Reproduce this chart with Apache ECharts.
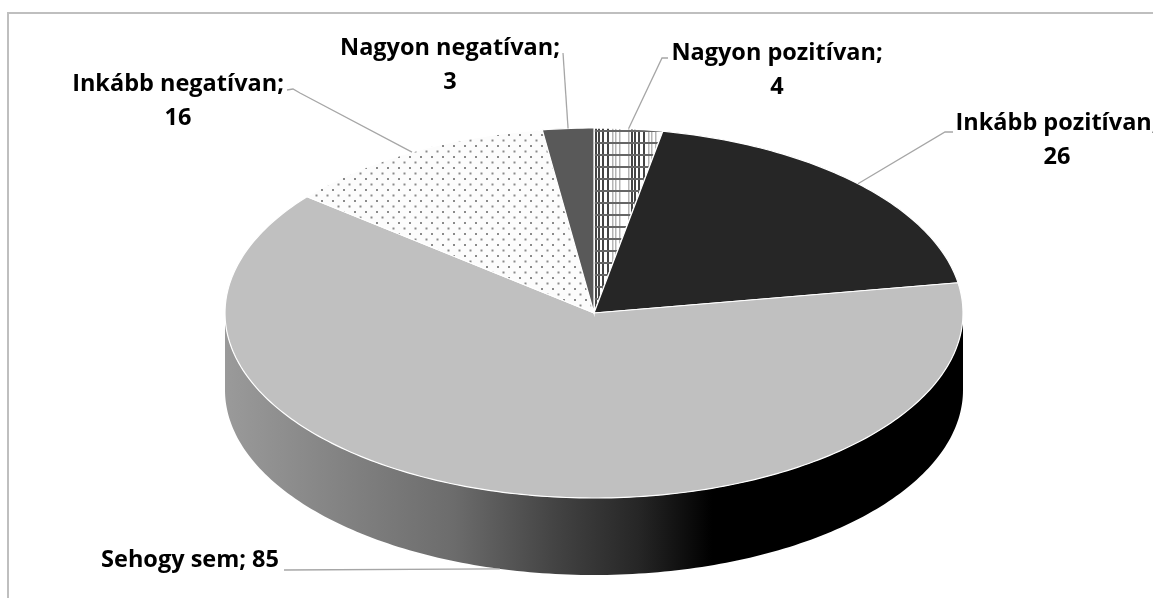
<!DOCTYPE html>
<html>
<head>
<meta charset="utf-8">
<style>html,body{margin:0;padding:0;background:#fff;overflow:hidden}#c{width:1153px;height:598px}</style>
<script src="https://cdn.jsdelivr.net/npm/echarts@6/dist/echarts.min.js"></script>
</head>
<body>
<div id="c"></div>
<script>
const categories = ['Nagyon pozitívan', 'Inkább pozitívan', 'Sehogy sem', 'Inkább negatívan', 'Nagyon negatívan'];
const values = [4, 26, 85, 16, 3];

// Layout of the tilted pie (like a pie's center / radius options)
const CX = 594, CY = 313, RX = 369, RY = 185, DEPTH = 77;
const LABEL_FONT = '"Open Sans"';
const FONT_SIZE = 23.5;
// label centre x, first line y, second-line offset; elbow of the leader line
const labelLayout = [
  { x: 777, y: 36, two: true, elbow: [[662, 58], [668, 58]] },
  { x: 1057, y: 106, two: true, elbow: [[945, 132], [953, 132]] },
  { x: 190, y: 543, two: false, elbow: [[284, 570]] },
  { x: 178, y: 67, two: true, elbow: [[300, 93], [293, 89], [287, 90]] },
  { x: 450, y: 31, two: true, elbow: [[563, 53]] }
];

function tile(w, h, draw) {
  const c = document.createElement('canvas');
  c.width = w; c.height = h;
  const g = c.getContext('2d');
  g.fillStyle = '#fff'; g.fillRect(0, 0, w, h);
  draw(g);
  return c;
}
const hatch = tile(36, 12, g => {
  g.fillStyle = '#b5b5b5';
  [0, 3, 7, 16].forEach(x => g.fillRect(x, 0, 1.5, 12));
  g.fillStyle = '#444';
  [19, 22, 26, 31].forEach(x => g.fillRect(x, 0, 2, 12));
  g.fillStyle = '#666';
  g.fillRect(0, 10, 36, 2);
});
const dots = tile(11, 11, g => {
  g.fillStyle = '#fcfcfc'; g.fillRect(0, 0, 11, 11);
  g.fillStyle = '#8a8a8a';
  g.fillRect(2, 2, 2, 2);
  g.fillRect(7.5, 7.5, 2, 2);
});

const fills = [
  { image: hatch, repeat: 'repeat' },
  '#262626',
  '#c0c0c0',
  { image: dots, repeat: 'repeat' },
  '#595959'
];
const wallFill = {
  type: 'linear', x: 0, y: 0, x2: 1, y2: 0,
  colorStops: [
    { offset: 0, color: '#9a9a9a' },
    { offset: 0.31, color: '#6c6c6c' },
    { offset: 0.445, color: '#444444' },
    { offset: 0.56, color: '#262626' },
    { offset: 0.66, color: '#000000' },
    { offset: 1, color: '#000000' }
  ]
};

const total = values.reduce((a, b) => a + b, 0);
function rim(deg, dy) {
  const t = deg * Math.PI / 180;
  return [CX + RX * Math.sin(t), CY - RY * Math.cos(t) + (dy || 0)];
}
function arc(a0, a1, dy) {
  const pts = [];
  const n = Math.max(2, Math.ceil(Math.abs(a1 - a0)));
  for (let i = 0; i <= n; i++) pts.push(rim(a0 + (a1 - a0) * i / n, dy));
  return pts;
}

function renderItem(params, api) {
  const i = params.dataIndex;
  const v = api.value(0);
  let before = 0;
  for (let k = 0; k < i; k++) before += values[k];
  const a0 = before / total * 360;
  const a1 = (before + v) / total * 360;
  const mid = (a0 + a1) / 2;
  const children = [];

  // side wall: only the front half (90..270 degrees) is visible
  const w0 = Math.max(a0, 90), w1 = Math.min(a1, 270);
  if (w1 > w0) {
    const top = arc(w0, w1, 0);
    const bottom = arc(w1, w0, DEPTH);
    children.push({
      type: 'polygon', shape: { points: top.concat(bottom) },
      style: { fill: wallFill, stroke: null }
    });
  }
  // top face
  children.push({
    type: 'polygon',
    shape: { points: [[CX, CY]].concat(arc(a0, a1, 0)) },
    style: { fill: fills[i], stroke: '#ffffff', lineWidth: 1.2 }
  });
  // leader line
  const lay = labelLayout[i];
  const frontFacing = mid > 90 && mid < 270;
  const anchor = rim(mid, frontFacing ? DEPTH : 0);
  children.push({
    type: 'polyline', z2: 5,
    shape: { points: [anchor].concat(lay.elbow) },
    style: { fill: null, stroke: '#a6a6a6', lineWidth: 1.3 }
  });
  // label
  const name = categories[i];
  const text = lay.two ? name + ';\n' + v : name + '; ' + v;
  children.push({
    type: 'text', z2: 6,
    x: lay.x, y: lay.y,
    style: {
      text: text, fill: '#000000', align: 'center', verticalAlign: 'top',
      font: 'bold ' + FONT_SIZE + 'px ' + LABEL_FONT,
      lineHeight: 34
    }
  });
  return { type: 'group', children: children };
}

const chart = echarts.init(document.getElementById('c'), null, { renderer: 'canvas' });
chart.setOption({
  animation: false,
  backgroundColor: '#ffffff',
  graphic: [
    { type: 'line', silent: true, shape: { x1: 8, y1: 13, x2: 1153, y2: 13 }, style: { stroke: '#bfbfbf', lineWidth: 2 } },
    { type: 'line', silent: true, shape: { x1: 8, y1: 12, x2: 8, y2: 598 }, style: { stroke: '#bfbfbf', lineWidth: 2 } }
  ],
  series: [{
    type: 'custom',
    coordinateSystem: 'none',
    silent: true,
    renderItem: renderItem,
    encode: { value: 0 },
    data: values.map((v, i) => ({ name: categories[i], value: [v] }))
  }]
});
</script>
</body>
</html>
